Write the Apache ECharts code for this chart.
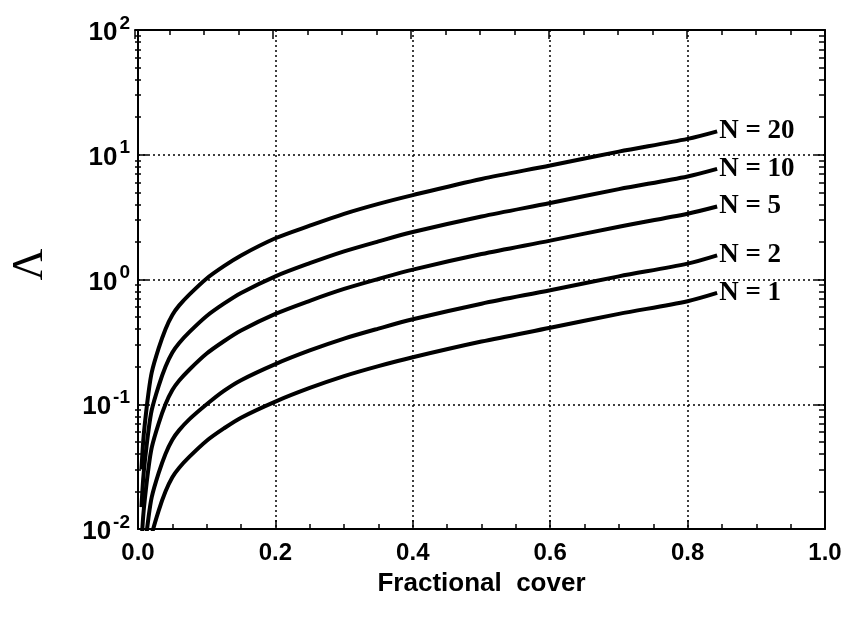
<!DOCTYPE html>
<html>
<head>
    <meta charset="UTF-8">
    <title>Lambda vs fractional cover</title>
</head>
<body style="margin:0;background:#fff;">
    <div id="main" style="width: 860px;height:631px;"></div>
    <script src="https://cdn.jsdelivr.net/npm/echarts@6.0.0/dist/echarts.min.js"></script>
    <script type="text/javascript">
        const cover = [0.005, 0.0075, 0.01, 0.015, 0.02, 0.03, 0.04, 0.05, 0.06, 0.075, 0.1, 0.125, 0.15, 0.2, 0.25, 0.3, 0.35, 0.4, 0.5, 0.6, 0.7, 0.8, 0.843];
        // Lambda for each N
        const lambdaN1  = [null, null, 0.0035, 0.006, 0.009, 0.014, 0.02, 0.026, 0.031, 0.038, 0.051, 0.064, 0.078, 0.105, 0.135, 0.168, 0.202, 0.238, 0.318, 0.41, 0.53, 0.67, 0.78];
        const lambdaN2  = [null, 0.005, 0.007, 0.012, 0.018, 0.028, 0.04, 0.052, 0.062, 0.076, 0.10, 0.128, 0.156, 0.21, 0.27, 0.336, 0.404, 0.48, 0.64, 0.82, 1.06, 1.34, 1.56];
        const lambdaN5  = [0.0075, 0.0125, 0.0175, 0.03, 0.045, 0.07, 0.10, 0.13, 0.155, 0.19, 0.255, 0.32, 0.39, 0.53, 0.675, 0.84, 1.01, 1.2, 1.6, 2.05, 2.65, 3.37, 3.85];
        const lambdaN10 = [0.015, 0.025, 0.035, 0.06, 0.09, 0.14, 0.20, 0.26, 0.31, 0.38, 0.51, 0.64, 0.78, 1.06, 1.35, 1.68, 2.02, 2.4, 3.2, 4.1, 5.3, 6.7, 7.7];
        const lambdaN20 = [0.03, 0.05, 0.07, 0.12, 0.18, 0.28, 0.40, 0.52, 0.62, 0.76, 1.02, 1.28, 1.56, 2.14, 2.7, 3.36, 4.04, 4.75, 6.4, 8.2, 10.6, 13.4, 15.4];
        const curveLabels = ['N = 1', 'N = 2', 'N = 5', 'N = 10', 'N = 20'];

        // minor ticks of the log axis (2..9 in every decade), as log10 positions
        const minorLogs = [];
        [-2, -1, 0, 1].forEach(function (d) {
            for (let k = 2; k <= 9; k++) minorLogs.push(d + Math.log10(k));
        });

        var myChart = echarts.init(document.getElementById('main'));

        const black = '#000';
        const dotted = { show: true, lineStyle: { color: black, width: 1.5, type: [2, 3] } };
        const frame = { show: true, onZero: false, lineStyle: { color: black, width: 2 } };
        const gridBox = { left: 135, top: 30, right: 35, bottom: 102, containLabel: false };

        function pairs(ys) {
            const out = [];
            cover.forEach(function (x, i) {
                if (ys[i] != null) out.push([x, ys[i]]);
            });
            return out;
        }

        // grid 0 carries the data and major ticks, grid 1 (same box) the minor log ticks
        function yMajor(pos) {
            return {
                gridIndex: 0, type: 'log', logBase: 10, min: 0.01, max: 100, position: pos,
                axisLine: frame,
                axisTick: { show: true, inside: true, length: 10, lineStyle: { color: black, width: 1.5 } },
                axisLabel: { show: false },
                splitLine: { show: false }
            };
        }
        function yMinor(pos) {
            return {
                gridIndex: 1, type: 'value', min: -2, max: 2, position: pos,
                axisLine: { show: false },
                axisTick: { show: true, inside: true, length: 6, customValues: minorLogs, lineStyle: { color: black, width: 1.5 } },
                axisLabel: { show: false },
                splitLine: { show: false }
            };
        }

        const yLeft = yMajor('left');
        yLeft.splitLine = dotted;
        yLeft.axisLabel = {
            show: true,
            margin: 8,
            formatter: function (v) {
                const e = Math.round(Math.log10(v));
                return '{b|10}{s|' + e + '}';
            },
            rich: {
                b: { fontSize: 26, fontWeight: 'bold', fontFamily: 'Liberation Sans', color: black, lineHeight: 32, verticalAlign: 'bottom' },
                s: { fontSize: 19, fontWeight: 'bold', fontFamily: 'Liberation Sans', color: black, lineHeight: 32, verticalAlign: 'top', padding: [0, 0, 0, 2] }
            }
        };
        yLeft.name = 'Λ';
        yLeft.nameLocation = 'middle';
        yLeft.nameRotate = 90;
        yLeft.nameGap = 86;
        yLeft.nameTextStyle = { fontSize: 44, fontFamily: 'Liberation Serif', color: black, padding: [0, 0, 0, 30] };

        const xCommon = {
            type: 'value', min: 0, max: 1, interval: 0.2,
            axisLine: frame,
            axisTick: { show: true, inside: true, length: 9, lineStyle: { color: black, width: 1.5 } },
            minorTick: { show: true, splitNumber: 4, length: 5, lineStyle: { color: black, width: 1.5 } }
        };

        let option = {
            animation: false,
            backgroundColor: '#fff',
            grid: [gridBox, Object.assign({}, gridBox)],
            xAxis: [
                Object.assign({}, xCommon, {
                    gridIndex: 0,
                    position: 'bottom',
                    splitLine: dotted,
                    axisLabel: {
                        margin: 12, color: black, fontSize: 24, fontWeight: 'bold', fontFamily: 'Liberation Sans',
                        formatter: function (v) { return v.toFixed(1); }
                    },
                    name: 'Fractional  cover',
                    nameLocation: 'middle',
                    nameGap: 42,
                    nameTextStyle: { fontSize: 26, fontWeight: 'bold', fontFamily: 'Liberation Sans', color: black }
                }),
                Object.assign({}, xCommon, {
                    gridIndex: 1,
                    position: 'top',
                    axisLabel: { show: false },
                    splitLine: { show: false }
                })
            ],
            yAxis: [yLeft, yMajor('right'), yMinor('left'), yMinor('right')],
            series: [lambdaN1, lambdaN2, lambdaN5, lambdaN10, lambdaN20].map(function (ys, i) {
                return {
                    type: 'line',
                    name: curveLabels[i],
                    xAxisIndex: 0,
                    yAxisIndex: 0,
                    data: pairs(ys),
                    smooth: 0.3,
                    showSymbol: false,
                    lineStyle: { color: black, width: 4 },
                    endLabel: {
                        show: true,
                        formatter: curveLabels[i],
                        distance: 2,
                        color: black,
                        fontSize: 27,
                        fontWeight: 'bold',
                        fontFamily: 'Liberation Serif'
                    }
                };
            })
        };

        myChart.setOption(option);
    </script>
</body>
</html>
